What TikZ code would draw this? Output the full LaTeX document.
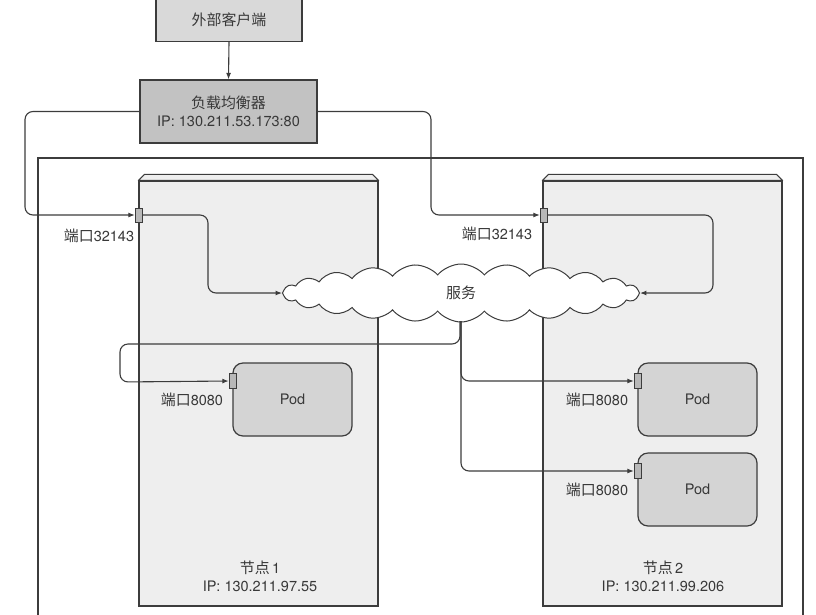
\documentclass[tikz,border=0pt]{standalone}
\usepackage{fontspec}
\setmainfont{TeX Gyre Heros}
\newfontfamily\cjk[Scale=1.03]{Noto Sans CJK SC}
\usetikzlibrary{shapes.symbols,arrows.meta,calc}
\definecolor{ln}{HTML}{3C3C3C}
\definecolor{txt}{HTML}{383838}
\definecolor{clientc}{HTML}{D9D9D9}
\definecolor{lbc}{HTML}{C2C2C2}
\definecolor{nodec}{HTML}{EEEEEE}
\definecolor{podc}{HTML}{D4D4D4}
\definecolor{portc}{HTML}{B8B8B8}
\begin{document}
\begin{tikzpicture}[x=1pt,y=-1pt,font=\fontsize{14.5}{17}\selectfont,text=txt,
  line/.style={draw=ln,line width=1.1pt},
  arr/.style={line,-{Latex[length=6.5pt,width=5pt]},rounded corners=8pt},
  box/.style={draw=ln,line width=1.2pt,inner sep=0pt,align=center},
  hostbox/.style={box,fill=nodec,minimum width=239pt,minimum height=425pt},
  podbox/.style={box,fill=podc,rounded corners=10pt,minimum width=119pt,minimum height=73pt},
  portbox/.style={draw=ln,line width=0.9pt,fill=portc,inner sep=0pt,minimum width=7.5pt,minimum height=14pt},
  lbl/.style={inner sep=0pt,align=center}]
\useasboundingbox (0,0) rectangle (816,614);
\begin{scope}
\clip (0,0) rectangle (816,614);
% cluster outline
\draw[line] (38,620) -- (38,158) -- (803,158) -- (803,620);
% client
\node[box,fill=clientc,minimum width=146pt,minimum height=44pt] (client) at (229,19.5) {{\cjk 外部客户端}};
\end{scope}
% load balancer
\node[box,fill=lbc,minimum width=177pt,minimum height=63pt] (lb) at (228.5,111.5) {{\cjk 负载均衡器}\\[1pt]IP: 130.211.53.173:80};
\draw[line,-{Latex[length=6.5pt,width=5pt]}] (client.south) -- (lb.north);
% hosts
\node[hostbox] (host1) at (258.5,393.5) {};
\node[hostbox] (host2) at (662.5,393.5) {};
\foreach \h in {host1,host2}{
  \draw[line,fill=nodec,line join=round] (\h.north west) -- ++(6,-6) -- ($(\h.north east)+(-6,-6)$) -- (\h.north east) -- cycle;
}
\node[lbl] (h1lbl) at (260,576) {{\cjk 节点}\,1\\[1pt]IP: 130.211.97.55};
\node[lbl] (h2lbl) at (663,576) {{\cjk 节点}\,2\\[1pt]IP: 130.211.99.206};
% node ports
\node[portbox] (p1) at (139,215) {};
\node[portbox] (p2) at (544,215) {};
\node[lbl] (p1lbl) at (99,236) {{\cjk 端口}32143};
\node[lbl] (p2lbl) at (497,234) {{\cjk 端口}32143};
% service cloud
\node[cloud,cloud puffs=24,cloud puff arc=100,cloud ignores aspect,draw=ln,line width=1pt,fill=white,minimum width=357pt,minimum height=58pt,inner sep=0pt] (svc) at (461,293) {{\cjk 服务}};
% pods
\node[podbox] (pod1) at (292.5,399.5) {Pod};
\node[podbox] (pod2) at (697.5,399.5) {Pod};
\node[podbox] (pod3) at (697.5,489.5) {Pod};
\node[portbox,minimum height=15pt] (pp1) at (233,381) {};
\node[portbox,minimum height=15pt] (pp2) at (638,381) {};
\node[portbox,minimum height=15pt] (pp3) at (638,471) {};
\node[lbl] (pp1lbl) at (192,400) {{\cjk 端口}8080};
\node[lbl] (pp2lbl) at (597,400) {{\cjk 端口}8080};
\node[lbl] (pp3lbl) at (597,490) {{\cjk 端口}8080};
% connectors
\draw[arr] (lb.west) -- (25,111.5) -- (25,215) -- (p1.west);
\draw[arr] (lb.east) -- (431,111.5) -- (431,215) -- (p2.west);
\draw[arr] (p1.east) -- (208,215) -- (208,293) -- (svc.west);
\draw[arr] (p2.east) -- (713,215) -- (713,293) -- (svc.east);
\draw[arr] (460,321) -- (460,344) -- (120,344) -- (120,382) -- (pp1.west);
\draw[arr] (461,321) -- (461,381) -- (pp2.west);
\draw[arr] (461,321) -- (461,471) -- (pp3.west);
\end{tikzpicture}
\end{document}
